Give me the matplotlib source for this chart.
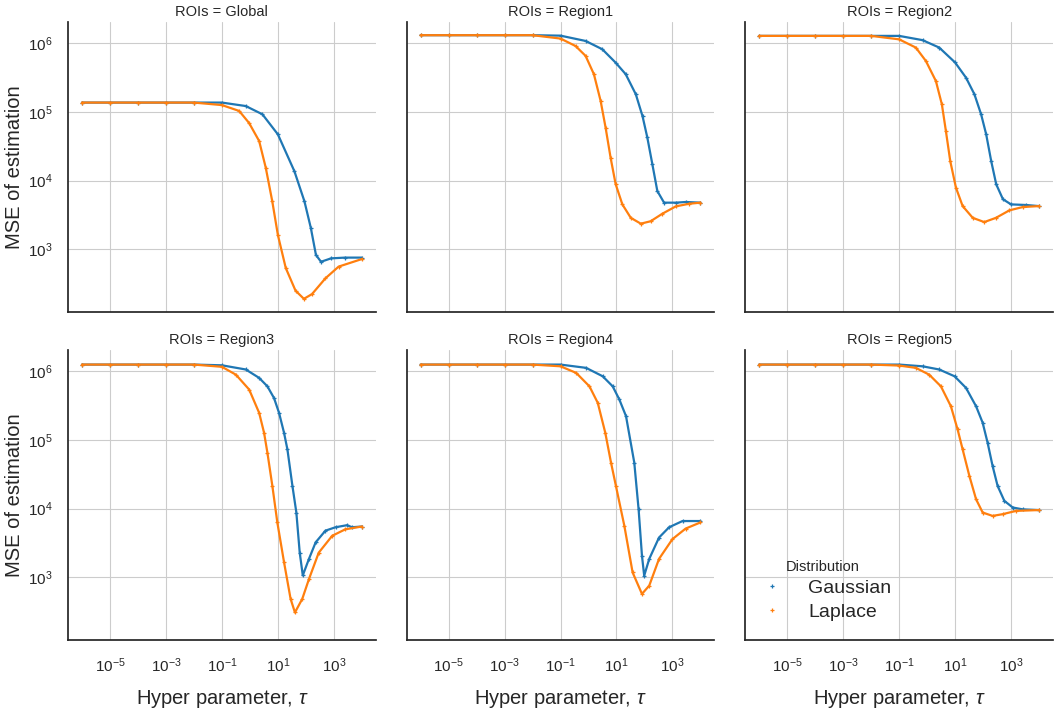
import matplotlib
matplotlib.use("Agg")
import matplotlib.pyplot as plt
import matplotlib.ticker as mticker
from matplotlib.lines import Line2D
import seaborn as sns

sns.set_style("white", {"axes.grid": True, "grid.color": ".8"})
plt.rcParams['font.family'] = ['Liberation Sans', 'DejaVu Sans']
plt.rcParams['mathtext.fontset'] = 'custom'
plt.rcParams['mathtext.rm'] = 'Liberation Sans'
plt.rcParams['mathtext.it'] = 'Liberation Sans:italic'

# ---- data (tau, MSE) ----
rois = ["Global", "Region1", "Region2", "Region3", "Region4", "Region5"]
distributions = ["Gaussian", "Laplace"]
colors = ["#1f77b4", "#ff7f0e"]

tau_global_gauss = [1e-6, 1e-5, 1e-4, 1e-3, 1e-2, 0.1, 0.71, 2.8, 10, 39, 89, 151, 229, 347, 794, 2500, 1e4]
mse_global_gauss = [1.37e5, 1.37e5, 1.37e5, 1.37e5, 1.37e5, 1.37e5, 1.22e5, 9.25e4, 4.72e4, 1.37e4, 5.0e3, 2.04e3, 832, 661, 741, 760, 760]
tau_global_lap = [1e-6, 1e-5, 1e-4, 1e-3, 1e-2, 0.1, 0.413, 0.933, 2.14, 3.68, 6.31, 10, 19.1, 42.7, 85, 166, 501, 1480, 1e4]
mse_global_lap = [1.37e5, 1.37e5, 1.37e5, 1.37e5, 1.37e5, 1.26e5, 1.035e5, 6.92e4, 3.78e4, 1.55e4, 5.0e3, 1.62e3, 537, 251, 191, 224, 380, 562, 724]

tau_r1_gauss = [1e-6, 1e-5, 1e-4, 1e-3, 1e-2, 0.1, 0.787, 3.11, 9.33, 21.4, 49, 85, 126, 191, 288, 501, 1320, 3020, 1e4]
mse_r1_gauss = [1.31e6, 1.31e6, 1.31e6, 1.31e6, 1.31e6, 1.29e6, 1.08e6, 8.18e5, 5.22e5, 3.54e5, 1.81e5, 8.71e4, 4.27e4, 1.74e4, 7.08e3, 4.79e3, 4.79e3, 4.9e3, 4.79e3]
tau_r1_lap = [1e-6, 1e-5, 1e-4, 1e-3, 1e-2, 0.1, 0.344, 0.787, 1.56, 2.71, 4.09, 6.18, 9.33, 16.2, 32.4, 74, 166, 437, 1320, 3980, 1e4]
mse_r1_lap = [1.31e6, 1.31e6, 1.31e6, 1.31e6, 1.31e6, 1.17e6, 9.12e5, 6.55e5, 3.54e5, 1.45e5, 5.89e4, 2.14e4, 8.91e3, 4.52e3, 2.88e3, 2.37e3, 2.57e3, 3.31e3, 4.23e3, 4.62e3, 4.79e3]

tau_r2_gauss = [1e-6, 1e-5, 1e-4, 1e-3, 1e-2, 0.1, 0.686, 2.71, 10, 24.5, 49, 85, 129, 195, 295, 513, 1000, 3470, 1e4]
mse_r2_gauss = [1.28e6, 1.28e6, 1.28e6, 1.28e6, 1.28e6, 1.28e6, 1.11e6, 8.65e5, 5.25e5, 3.16e5, 1.81e5, 9.25e4, 4.73e4, 1.93e4, 8.85e3, 5.37e3, 4.52e3, 4.43e3, 4.27e3]
tau_r2_lap = [1e-6, 1e-5, 1e-4, 1e-3, 1e-2, 0.1, 0.395, 0.902, 2.06, 3.37, 4.70, 6.71, 10.7, 18.6, 42.7, 110, 288, 871, 2630, 1e4]
mse_r2_lap = [1.28e6, 1.28e6, 1.28e6, 1.28e6, 1.28e6, 1.14e6, 8.65e5, 5.53e5, 2.82e5, 1.29e5, 5.25e4, 1.93e4, 7.94e3, 4.27e3, 2.88e3, 2.50e3, 2.88e3, 3.70e3, 4.14e3, 4.27e3]

tau_r3_gauss = [1e-6, 1e-5, 1e-4, 1e-3, 1e-2, 0.1, 0.714, 2.14, 4.22, 7.28, 11, 16.6, 21.9, 33.1, 45.7, 60.3, 77.6, 129, 224, 501, 1150, 2950, 4470, 1e4]
mse_r3_gauss = [1.25e6, 1.25e6, 1.25e6, 1.25e6, 1.25e6, 1.22e6, 1.06e6, 8.0e5, 6.03e5, 4.07e5, 2.48e5, 1.27e5, 7.29e4, 2.14e4, 8.79e3, 2.29e3, 1.07e3, 1.86e3, 3.24e3, 4.79e3, 5.37e3, 5.75e3, 5.37e3, 5.5e3]
tau_r3_lap = [1e-6, 1e-5, 1e-4, 1e-3, 1e-2, 0.1, 0.316, 0.94, 2.14, 3.21, 4.22, 6.35, 9.55, 16.6, 28.5, 40.7, 74.1, 129, 288, 871, 2570, 1e4]
mse_r3_lap = [1.25e6, 1.25e6, 1.25e6, 1.25e6, 1.25e6, 1.16e6, 8.91e5, 5.42e5, 2.48e5, 1.27e5, 6.53e4, 2.14e4, 6.31e3, 1.66e3, 485, 309, 485, 946, 2.29e3, 4.03e3, 5.01e3, 5.5e3]

tau_r4_gauss = [1e-6, 1e-5, 1e-4, 1e-3, 1e-2, 0.1, 0.82, 3.21, 7.31, 12.6, 21.9, 43.2, 61.7, 81.3, 97.7, 148, 331, 759, 2290, 1e4]
mse_r4_gauss = [1.25e6, 1.25e6, 1.25e6, 1.25e6, 1.25e6, 1.25e6, 1.12e6, 8.45e5, 6.03e5, 3.89e5, 2.22e5, 4.68e4, 9.77e3, 2.07e3, 1.06e3, 1.86e3, 3.80e3, 5.37e3, 6.61e3, 6.61e3]
tau_r4_lap = [1e-6, 1e-5, 1e-4, 1e-3, 1e-2, 0.1, 0.363, 1.08, 2.14, 3.98, 6.37, 9.55, 19.1, 37.7, 81.3, 148, 331, 1000, 2950, 1e4]
mse_r4_lap = [1.25e6, 1.25e6, 1.25e6, 1.25e6, 1.25e6, 1.18e6, 9.46e5, 6.03e5, 3.47e5, 1.27e5, 4.68e4, 2.14e4, 5.62e3, 1.18e3, 575, 759, 1.86e3, 3.61e3, 5.13e3, 6.31e3]

tau_r5_gauss = [1e-6, 1e-5, 1e-4, 1e-3, 1e-2, 0.1, 0.686, 2.71, 9.55, 24.5, 56.2, 96.6, 145, 219, 331, 575, 1150, 2630, 1e4]
mse_r5_gauss = [1.25e6, 1.25e6, 1.25e6, 1.25e6, 1.25e6, 1.25e6, 1.18e6, 1.06e6, 8.45e5, 5.73e5, 3.09e5, 1.78e5, 9.12e4, 4.17e4, 2.14e4, 1.30e4, 1.04e4, 9.77e3, 9.55e3]
tau_r5_lap = [1e-6, 1e-5, 1e-4, 1e-3, 1e-2, 0.1, 0.395, 1.19, 3.11, 7.08, 12.3, 18.6, 32.4, 56.2, 96.6, 219, 501, 1510, 1e4]
mse_r5_lap = [1.25e6, 1.25e6, 1.25e6, 1.25e6, 1.25e6, 1.21e6, 1.12e6, 8.91e5, 6.03e5, 3.09e5, 1.42e5, 7.29e4, 2.99e4, 1.37e4, 8.79e3, 7.85e3, 8.32e3, 9.29e3, 9.55e3]

x_ticks = [1e-5, 1e-3, 1e-1, 1e1, 1e3]
y_ticks = [1e3, 1e4, 1e5, 1e6]

series = {
    "Global": [(tau_global_gauss, mse_global_gauss), (tau_global_lap, mse_global_lap)],
    "Region1": [(tau_r1_gauss, mse_r1_gauss), (tau_r1_lap, mse_r1_lap)],
    "Region2": [(tau_r2_gauss, mse_r2_gauss), (tau_r2_lap, mse_r2_lap)],
    "Region3": [(tau_r3_gauss, mse_r3_gauss), (tau_r3_lap, mse_r3_lap)],
    "Region4": [(tau_r4_gauss, mse_r4_gauss), (tau_r4_lap, mse_r4_lap)],
    "Region5": [(tau_r5_gauss, mse_r5_gauss), (tau_r5_lap, mse_r5_lap)],
}

fig, axes = plt.subplots(2, 3, figsize=(10.56, 7.10), dpi=100, sharex=True, sharey=True)
fig.subplots_adjust(left=0.0644, right=0.9972, bottom=0.0986, top=0.969, wspace=0.10, hspace=0.131)

for ax, roi in zip(axes.flat, rois):
    for (tx, my), col in zip(series[roi], colors):
        ax.plot(tx, my, color=col, lw=1.6, marker='+', ms=3.5, mew=0.9)
    ax.set_xscale('log')
    ax.set_yscale('log')
    ax.set_title(f"ROIs = {roi}", fontsize=10.5, pad=4)
    for s in ['top', 'right']:
        ax.spines[s].set_visible(False)
    for s in ['left', 'bottom']:
        ax.spines[s].set_color('.15')
        ax.spines[s].set_linewidth(1.25)
    ax.tick_params(axis='x', labelsize=11, length=0, pad=12)
    ax.tick_params(axis='y', labelsize=11, length=0, pad=11)

ax0 = axes[0, 0]
ax0.xaxis.set_major_locator(mticker.FixedLocator(x_ticks))
ax0.xaxis.set_minor_locator(mticker.NullLocator())
ax0.yaxis.set_major_locator(mticker.FixedLocator(y_ticks))
ax0.yaxis.set_minor_locator(mticker.NullLocator())
ax0.xaxis.set_major_formatter(mticker.LogFormatterMathtext())
ax0.yaxis.set_major_formatter(mticker.LogFormatterMathtext())

for ax in axes[:, 0]:
    ax.set_ylabel("MSE of estimation", fontsize=14.5, labelpad=3)
for ax in axes[1, :]:
    ax.set_xlabel(r"Hyper parameter, $\tau$", fontsize=14.5, labelpad=9)

handles = [Line2D([], [], color=c, marker='+', ls='none', ms=3.5, mew=0.9) for c in colors]
leg = axes[1, 2].legend(handles, distributions, title="Distribution", loc='lower left',
                        bbox_to_anchor=(0.0, 0.04), borderaxespad=0.0, frameon=False, fontsize=14,
                        title_fontsize=10.5, handlelength=2.0, handletextpad=0.85, labelspacing=0.3)

fig.savefig("out.png", dpi=100)
